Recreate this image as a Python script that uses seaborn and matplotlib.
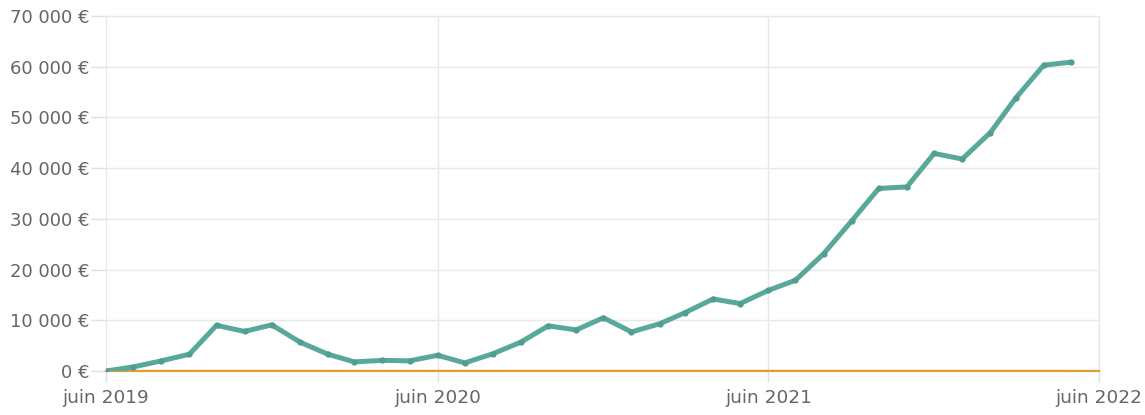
import pandas as pd
import matplotlib
matplotlib.use('Agg')
import matplotlib.pyplot as plt
import seaborn as sns

# monthly values, juin 2019 -> mai 2022
months = pd.date_range('2019-06-01', '2022-05-01', freq='MS')
valeur = [0, 800, 2000, 3300, 9000, 7800, 9100, 5700, 3300, 1800, 2100, 2000,
          3100, 1600, 3400, 5700, 8900, 8100, 10500, 7700, 9300, 11500, 14200, 13300,
          15900, 17900, 23100, 29600, 36000, 36300, 42900, 41800, 47000, 53800, 60300, 60900]
versements = [0] * len(months)

y_ticks = [0, 10000, 20000, 30000, 40000, 50000, 60000, 70000]
x_ticks = pd.to_datetime(['2019-06-01', '2020-06-01', '2021-06-01', '2022-06-01'])
x_labels = ['juin 2019', 'juin 2020', 'juin 2021', 'juin 2022']

df = pd.DataFrame({'mois': months, 'valeur': valeur, 'versements': versements})

sns.set_style('white')
plt.rcParams['font.family'] = ['DejaVu Sans']

fig = plt.figure(figsize=(11.45, 4.15), dpi=100)
ax = fig.add_axes([106 / 1145, 1 - 371 / 415, (1099 - 106) / 1145, (371 - 16) / 415])

sns.lineplot(data=df, x='mois', y='versements', ax=ax, color='#e39b32', linewidth=1.6, zorder=3)
sns.lineplot(data=df, x='mois', y='valeur', ax=ax, color='#58a89b', linewidth=3.6,
             marker='o', markersize=4.5, markeredgewidth=0, markerfacecolor='#4f9e91', zorder=4,
             solid_joinstyle='round', solid_capstyle='round')

ax.set_xlim(x_ticks[0], x_ticks[-1])
ax.set_ylim(0, 70000)
ax.set_yticks(y_ticks)
ax.set_yticklabels([f'{v:,} €'.replace(',', ' ') for v in y_ticks])
ax.set_xticks(x_ticks)
ax.set_xticklabels(x_labels)
ax.set_xlabel('')
ax.set_ylabel('')

ax.grid(True, color='#e8e8e8', linewidth=1)
ax.set_axisbelow(True)
ax.spines['left'].set_visible(False)
ax.spines['bottom'].set_color('#e39b32')
ax.spines['bottom'].set_linewidth(1.6)
for side in ['top', 'right']:
    ax.spines[side].set_color('#e8e8e8')
    ax.spines[side].set_linewidth(1)

ax.tick_params(axis='y', length=11, width=1, color='#e0e0e0', labelsize=13,
               labelcolor='#666666', pad=1, left=True)
ax.tick_params(axis='x', length=8, width=1, color='#e0e0e0', labelsize=13.3,
               labelcolor='#666666', pad=5, bottom=True)
ax.get_yticklines()[0].set_color('#e39b32')

fig.savefig('out.png', dpi=100)
